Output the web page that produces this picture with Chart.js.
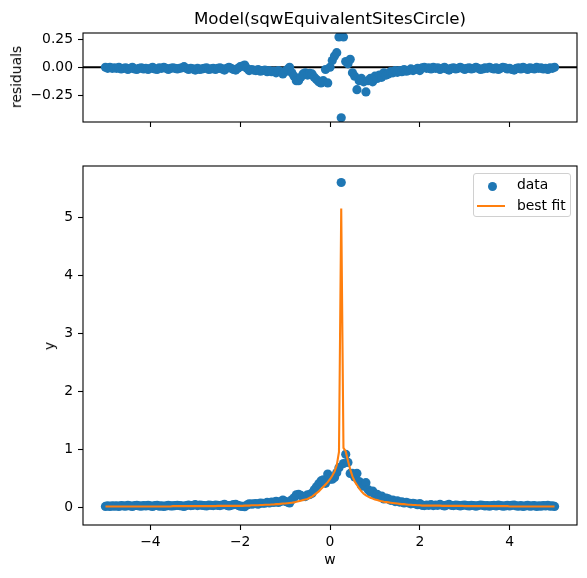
<!DOCTYPE html>
<html>
<head>
<meta charset="utf-8">
<script src="https://cdn.jsdelivr.net/npm/chart.js@4.4.1/dist/chart.umd.min.js"></script>
<style>
  body { margin: 0; background: #fff; }
  #wrap { position: relative; width: 587px; height: 578px; font-family: "DejaVu Sans", sans-serif; color: #000; }
  canvas { position: absolute; left: 0; top: 0; }
  .lbl { position: absolute; white-space: nowrap; line-height: 1; }
  .rot { transform: translate(-50%, -50%) rotate(-90deg); }
  .ctr { transform: translate(-50%, -50%); }
  #legend { position: absolute; left: 473px; top: 173px; width: 98px; height: 44px; box-sizing: border-box;
            border: 1px solid #d0d0d0; border-radius: 3px; background: rgba(255,255,255,0.8); font-size: 13.9px; }
  #legend .dot { position: absolute; left: 14px; top: 7.5px; width: 9px; height: 9px; border-radius: 50%; background: #1f77b4; }
  #legend .ln { position: absolute; left: 3px; top: 30.5px; width: 28px; height: 2px; background: #ff7f0e; }
  #legend .txt { position: absolute; left: 43px; line-height: 1; }
</style>
</head>
<body>
<div id="wrap">
  <canvas id="residChart" width="587" height="578"></canvas>
  <canvas id="fitChart" width="587" height="578"></canvas>
  <div class="lbl ctr" style="left:330px; top:18px; font-size:16.7px;">Model(sqwEquivalentSitesCircle)</div>
  <div class="lbl rot" style="left:17px; top:77px; font-size:13.9px;">residuals</div>
  <div class="lbl rot" style="left:50px; top:346px; font-size:13.9px;">y</div>
  <div class="lbl ctr" style="left:330px; top:560px; font-size:13.9px;">w</div>
  <div id="legend">
    <div class="dot"></div><div class="txt" style="top:4px;">data</div>
    <div class="ln"></div><div class="txt" style="top:24.5px;">best fit</div>
  </div>
</div>
<script>
// independent variable
const w = [
  -5, -4.95, -4.9, -4.85, -4.8, -4.75, -4.7, -4.65, -4.6, -4.55,
  -4.5, -4.45, -4.4, -4.35, -4.3, -4.25, -4.2, -4.15, -4.1, -4.05,
  -4, -3.95, -3.9, -3.85, -3.8, -3.75, -3.7, -3.65, -3.6, -3.55,
  -3.5, -3.45, -3.4, -3.35, -3.3, -3.25, -3.2, -3.15, -3.1, -3.05,
  -3, -2.95, -2.9, -2.85, -2.8, -2.75, -2.7, -2.65, -2.6, -2.55,
  -2.5, -2.45, -2.4, -2.35, -2.3, -2.25, -2.2, -2.15, -2.1, -2.05,
  -2, -1.95, -1.9, -1.85, -1.8, -1.75, -1.7, -1.65, -1.6, -1.55,
  -1.5, -1.45, -1.4, -1.35, -1.3, -1.25, -1.2, -1.15, -1.1, -1.05,
  -1, -0.95, -0.9, -0.85, -0.8, -0.75, -0.7, -0.65, -0.6, -0.55,
  -0.5, -0.45, -0.4, -0.35, -0.3, -0.25, -0.2, -0.15, -0.1, -0.05,
  0, 0.05, 0.1, 0.15, 0.2, 0.25, 0.3, 0.35, 0.4, 0.45,
  0.5, 0.55, 0.6, 0.65, 0.7, 0.75, 0.8, 0.85, 0.9, 0.95,
  1, 1.05, 1.1, 1.15, 1.2, 1.25, 1.3, 1.35, 1.4, 1.45,
  1.5, 1.55, 1.6, 1.65, 1.7, 1.75, 1.8, 1.85, 1.9, 1.95,
  2, 2.05, 2.1, 2.15, 2.2, 2.25, 2.3, 2.35, 2.4, 2.45,
  2.5, 2.55, 2.6, 2.65, 2.7, 2.75, 2.8, 2.85, 2.9, 2.95,
  3, 3.05, 3.1, 3.15, 3.2, 3.25, 3.3, 3.35, 3.4, 3.45,
  3.5, 3.55, 3.6, 3.65, 3.7, 3.75, 3.8, 3.85, 3.9, 3.95,
  4, 4.05, 4.1, 4.15, 4.2, 4.25, 4.3, 4.35, 4.4, 4.45,
  4.5, 4.55, 4.6, 4.65, 4.7, 4.75, 4.8, 4.85, 4.9, 4.95,
  5
];

// measured data
const yData = [
  0.01, 0.02, 0.01, 0.02, 0.015, 0.02, 0.01, 0.025, 0.02, 0.015,
  0.03, 0.02, 0.01, 0.025, 0.03, 0.02, 0.015, 0.025, 0.02, 0.03,
  0.02, 0.01, 0.025, 0.03, 0.015, 0.02, 0.01, 0.02, 0.03, 0.02,
  0.02, 0.025, 0.03, 0.025, 0.02, 0.01, 0.025, 0.035, 0.025, 0.03,
  0.04, 0.025, 0.035, 0.03, 0.025, 0.02, 0.035, 0.03, 0.025, 0.035,
  0.03, 0.025, 0.035, 0.045, 0.03, 0.02, 0.03, 0.04, 0.045, 0.03,
  0.015, 0.01, 0.005, 0.035, 0.055, 0.05, 0.055, 0.06, 0.05, 0.07,
  0.065, 0.065, 0.08, 0.07, 0.085, 0.08, 0.1, 0.08, 0.095, 0.12,
  0.1, 0.085, 0.07, 0.125, 0.16, 0.21, 0.22, 0.2, 0.18, 0.18,
  0.21, 0.215, 0.24, 0.3, 0.35, 0.4, 0.45, 0.47, 0.41, 0.57,
  0.48, 0.48, 0.51, 0.59, 0.68, 5.6, 0.75, 0.91, 0.77, 0.58,
  0.58, 0.52, 0.58, 0.44, 0.37, 0.36, 0.42, 0.3, 0.26, 0.275,
  0.21, 0.22, 0.18, 0.19, 0.14, 0.155, 0.14, 0.115, 0.12, 0.095,
  0.105, 0.085, 0.09, 0.07, 0.08, 0.07, 0.055, 0.065, 0.055, 0.04,
  0.06, 0.03, 0.025, 0.035, 0.03, 0.04, 0.025, 0.035, 0.03, 0.045,
  0.03, 0.02, 0.035, 0.045, 0.03, 0.025, 0.035, 0.03, 0.02, 0.03,
  0.035, 0.025, 0.02, 0.03, 0.025, 0.015, 0.025, 0.035, 0.03, 0.02,
  0.025, 0.015, 0.025, 0.03, 0.02, 0.035, 0.025, 0.015, 0.02, 0.03,
  0.02, 0.03, 0.035, 0.02, 0.015, 0.025, 0.01, 0.02, 0.03, 0.015,
  0.02, 0.025, 0.01, 0.02, 0.015, 0.025, 0.02, 0.03, 0.015, 0.02,
  0.01
];

// best fit model
const yFit = [
  0.01, 0.01, 0.01, 0.01, 0.01, 0.01, 0.01, 0.01, 0.01, 0.01,
  0.01, 0.01, 0.01, 0.01, 0.01, 0.01, 0.01, 0.01, 0.01, 0.01,
  0.01, 0.01, 0.01, 0.01, 0.01, 0.01, 0.01, 0.01, 0.01, 0.01,
  0.015, 0.015, 0.015, 0.015, 0.015, 0.015, 0.015, 0.015, 0.015, 0.015,
  0.015, 0.015, 0.015, 0.015, 0.015, 0.015, 0.015, 0.015, 0.015, 0.015,
  0.02, 0.02, 0.02, 0.02, 0.02, 0.02, 0.02, 0.02, 0.02, 0.02,
  0.02, 0.02, 0.025, 0.025, 0.025, 0.03, 0.03, 0.03, 0.03, 0.035,
  0.035, 0.04, 0.04, 0.04, 0.045, 0.045, 0.05, 0.05, 0.055, 0.06,
  0.06, 0.065, 0.07, 0.075, 0.08, 0.09, 0.1, 0.11, 0.12, 0.13,
  0.14, 0.16, 0.18, 0.21, 0.24, 0.27, 0.31, 0.35, 0.39, 0.43,
  0.48, 0.54, 0.61, 0.72, 0.95, 5.15, 1.02, 0.96, 0.8, 0.65,
  0.53, 0.44, 0.38, 0.32, 0.27, 0.23, 0.2, 0.18, 0.16, 0.145,
  0.13, 0.12, 0.11, 0.1, 0.09, 0.085, 0.08, 0.075, 0.07, 0.065,
  0.06, 0.055, 0.05, 0.05, 0.045, 0.04, 0.04, 0.035, 0.035, 0.03,
  0.03, 0.025, 0.025, 0.025, 0.025, 0.025, 0.025, 0.025, 0.025, 0.025,
  0.02, 0.02, 0.02, 0.02, 0.02, 0.02, 0.02, 0.02, 0.02, 0.02,
  0.015, 0.015, 0.015, 0.015, 0.015, 0.015, 0.015, 0.015, 0.015, 0.015,
  0.015, 0.015, 0.015, 0.015, 0.015, 0.015, 0.015, 0.015, 0.015, 0.015,
  0.01, 0.01, 0.01, 0.01, 0.01, 0.01, 0.01, 0.01, 0.01, 0.01,
  0.01, 0.01, 0.01, 0.01, 0.01, 0.01, 0.01, 0.01, 0.01, 0.01,
  0.01
];

// residuals (model - data)
const yResid = [
  0, -0.01, 0, -0.01, -0.005, -0.01, 0, -0.015, -0.01, -0.005,
  -0.02, -0.01, 0, -0.015, -0.02, -0.01, -0.005, -0.015, -0.01, -0.02,
  -0.01, 0, -0.015, -0.02, -0.005, -0.01, 0, -0.01, -0.02, -0.01,
  -0.005, -0.01, -0.015, -0.01, -0.005, 0.005, -0.01, -0.02, -0.01, -0.015,
  -0.025, -0.01, -0.02, -0.015, -0.01, -0.005, -0.02, -0.015, -0.01, -0.02,
  -0.01, -0.005, -0.015, -0.025, -0.01, 0, -0.01, -0.02, -0.025, -0.01,
  0.005, 0.01, 0.02, -0.01, -0.03, -0.02, -0.025, -0.03, -0.02, -0.035,
  -0.03, -0.025, -0.04, -0.03, -0.04, -0.035, -0.05, -0.03, -0.04, -0.06,
  -0.04, -0.02, 0, -0.05, -0.08, -0.12, -0.12, -0.09, -0.06, -0.05,
  -0.07, -0.055, -0.06, -0.09, -0.11, -0.13, -0.14, -0.12, -0.02, -0.14,
  0, 0.06, 0.1, 0.13, 0.27, -0.45, 0.27, 0.05, 0.03, 0.07,
  -0.05, -0.08, -0.2, -0.12, -0.1, -0.13, -0.22, -0.12, -0.1, -0.13,
  -0.08, -0.1, -0.07, -0.09, -0.05, -0.07, -0.06, -0.04, -0.05, -0.03,
  -0.045, -0.03, -0.04, -0.02, -0.035, -0.03, -0.015, -0.03, -0.02, -0.01,
  -0.03, -0.005, 0, -0.01, -0.005, -0.015, 0, -0.01, -0.005, -0.02,
  -0.01, 0, -0.015, -0.025, -0.01, -0.005, -0.015, -0.01, 0, -0.01,
  -0.02, -0.01, -0.005, -0.015, -0.01, 0, -0.01, -0.02, -0.015, -0.005,
  -0.01, 0, -0.01, -0.015, -0.005, -0.02, -0.01, 0, -0.005, -0.015,
  -0.01, -0.02, -0.025, -0.01, -0.005, -0.015, 0, -0.01, -0.02, -0.005,
  -0.01, -0.015, 0, -0.01, -0.005, -0.015, -0.01, -0.02, -0.005, -0.01,
  0
];

// tick positions
const xTicks = [-4, -2, 0, 2, 4];
const residTicks = [-0.25, 0, 0.25];
const yTicks = [0, 1, 2, 3, 4, 5];

const BLUE = '#1f77b4';
const ORANGE = '#ff7f0e';
const minus = s => String(s).replace('-', '\u2212');

Chart.defaults.font.family = '"DejaVu Sans", sans-serif';
Chart.defaults.font.size = 13.9;
Chart.defaults.color = '#000';

// black frame around the plot area, like matplotlib spines
const frame = {
  id: 'frame',
  afterDatasetsDraw(chart) {
    const a = chart.chartArea, c = chart.ctx;
    c.save();
    c.strokeStyle = '#000';
    c.lineWidth = 1.1;
    c.strokeRect(a.left, a.top, a.right - a.left, a.bottom - a.top);
    c.restore();
  }
};

function axisX(showLabels, height) {
  return {
    type: 'linear', min: -5.5, max: 5.5,
    afterBuildTicks: s => { s.ticks = xTicks.map(v => ({ value: v })); },
    afterFit: s => { s.height = height; },
    grid: { drawOnChartArea: false, drawTicks: true, tickLength: 5, color: '#000', tickWidth: 1.1 },
    border: { display: false },
    ticks: { display: showLabels, maxRotation: 0, padding: 4, callback: v => minus(v) }
  };
}

function axisY(min, max, ticks, fmt) {
  return {
    type: 'linear', min: min, max: max,
    afterBuildTicks: s => { s.ticks = ticks.map(v => ({ value: v })); },
    afterFit: s => { s.width = 83; },
    grid: { drawOnChartArea: false, drawTicks: true, tickLength: 5, color: '#000', tickWidth: 1.1 },
    border: { display: false },
    ticks: { padding: 5, callback: fmt }
  };
}

new Chart(document.getElementById('residChart'), {
  type: 'scatter',
  data: {
    datasets: [
      {
        label: 'residuals',
        data: w.map((x, i) => ({ x: x, y: yResid[i] })),
        backgroundColor: BLUE, borderWidth: 0, pointRadius: 4.6, order: 1
      },
      {
        type: 'line', label: 'zero',
        data: [{ x: -5.5, y: 0 }, { x: 5.5, y: 0 }],
        borderColor: '#000', borderWidth: 2, pointRadius: 0, order: 2
      }
    ]
  },
  options: {
    responsive: false, animation: false, devicePixelRatio: 1,
    layout: { padding: { left: 0, right: 10, top: 33, bottom: 0 } },
    plugins: { legend: { display: false }, tooltip: { enabled: false } },
    scales: {
      x: axisX(false, 456),
      y: axisY(-0.488, 0.305, residTicks, v => minus(Number(v).toFixed(2)))
    }
  },
  plugins: [frame]
});

new Chart(document.getElementById('fitChart'), {
  type: 'scatter',
  data: {
    datasets: [
      {
        label: 'data',
        data: w.map((x, i) => ({ x: x, y: yData[i] })),
        backgroundColor: BLUE, borderWidth: 0, pointRadius: 4.6, order: 2
      },
      {
        type: 'line', label: 'best fit',
        data: w.map((x, i) => ({ x: x, y: yFit[i] })),
        borderColor: ORANGE, borderWidth: 2.1, pointRadius: 0, tension: 0, order: 1
      }
    ]
  },
  options: {
    responsive: false, animation: false, devicePixelRatio: 1,
    layout: { padding: { left: 0, right: 10, top: 166, bottom: 0 } },
    plugins: { legend: { display: false }, tooltip: { enabled: false } },
    scales: {
      x: axisX(true, 53),
      y: axisY(-0.31, 5.885, yTicks, v => minus(v))
    }
  },
  plugins: [frame]
});
</script>
</body>
</html>
